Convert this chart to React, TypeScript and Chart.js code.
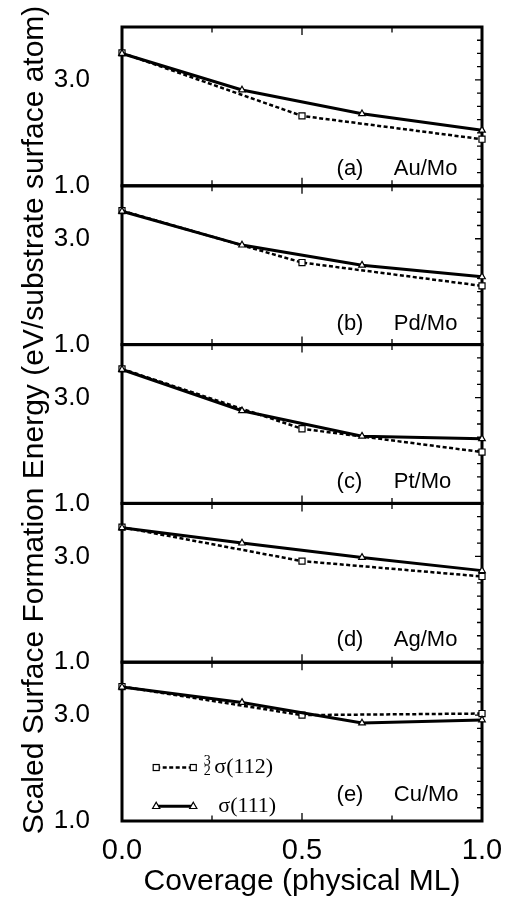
import React, { useEffect, useRef } from 'react';
import { Chart, registerables } from 'chart.js';

Chart.register(...registerables);

// ---------- data ----------
const coverage112 = [0, 0.5, 1];
const coverage111 = [0, 1 / 3, 2 / 3, 1];

const au112 = [3.51, 2.32, 1.88];
const au111 = [3.5, 2.81, 2.36, 2.05];
const pd112 = [3.53, 2.55, 2.11];
const pd111 = [3.52, 2.88, 2.5, 2.28];
const pt112 = [3.54, 2.41, 1.97];
const pt111 = [3.53, 2.75, 2.27, 2.22];
const ag112 = [3.55, 2.91, 2.62];
const ag111 = [3.54, 3.25, 2.98, 2.73];
const cu112 = [3.54, 3.0, 3.03];
const cu111 = [3.53, 3.24, 2.85, 2.91];

const sigma112 = [au112, pd112, pt112, ag112, cu112];
const sigma111 = [au111, pd111, pt111, ag111, cu111];

const panelLetters = ['(a)', '(b)', '(c)', '(d)', '(e)'];
const panelNames = ['Au/Mo', 'Pd/Mo', 'Pt/Mo', 'Ag/Mo', 'Cu/Mo'];
const panelIds = ['ya', 'yb', 'yc', 'yd', 'ye'];

const yTickValues = [1, 3];
const yMinorTicks = [1.25, 1.5, 1.75, 2, 2.25, 2.5, 2.75, 3, 3.25, 3.5, 3.75];
const xTickValues = [0, 0.5, 1];
const xMinorTicks = [0.25, 0.5, 0.75];
const yMin = 1;
const yMax = 4;

const legendLabels = ['σ(112)', 'σ(111)'];
const xTitle = 'Coverage (physical ML)';
const yTitle = 'Scaled Surface Formation Energy (eV/substrate surface atom)';

// ---------- styling / layout (not data) ----------
const SANS = "'Liberation Sans', Arial, Helvetica, sans-serif";
const SERIF = "'Liberation Serif', 'Times New Roman', serif";
const labelBaselineValue = [1.2, 1.28, 1.3, 1.3, 1.38];
const labelLetterX = 0.596;
const labelNameX = 0.755;
const legendRowValue = [2.01, 1.28];
const legendSampleX = [0.095, 0.198];

const framePlugin = {
  id: 'frame',
  beforeDatasetsDraw(chart: any) {
    const { ctx, chartArea } = chart;
    const xs = chart.scales.x;
    ctx.save();
    ctx.strokeStyle = '#000';
    panelIds.forEach((id) => {
      const s = chart.scales[id];
      const top = s.getPixelForValue(yMax);
      const bot = s.getPixelForValue(yMin);
      ctx.lineWidth = 1.3;
      ctx.beginPath();
      yMinorTicks.forEach((v) => {
        const py = s.getPixelForValue(v);
        const len = v === 3 ? 7 : 5;
        ctx.moveTo(chartArea.right, py);
        ctx.lineTo(chartArea.right - len, py);
      });
      xMinorTicks.forEach((v) => {
        const px = xs.getPixelForValue(v);
        const len = v === 0.5 ? 8 : 5.5;
        ctx.moveTo(px, top);
        ctx.lineTo(px, top + len);
        ctx.moveTo(px, bot);
        ctx.lineTo(px, bot - len);
      });
      ctx.stroke();
      ctx.lineWidth = 3;
      ctx.strokeRect(chartArea.left, top, chartArea.right - chartArea.left, bot - top);
    });
    ctx.restore();
  },
  afterDraw(chart: any) {
    const { ctx, chartArea } = chart;
    const xs = chart.scales.x;
    ctx.save();
    ctx.fillStyle = '#000';
    ctx.font = `22px ${SANS}`;
    ctx.textAlign = 'left';
    ctx.textBaseline = 'alphabetic';
    panelIds.forEach((id, i) => {
      const s = chart.scales[id];
      const py = s.getPixelForValue(labelBaselineValue[i]);
      ctx.fillText(panelLetters[i], xs.getPixelForValue(labelLetterX), py);
      ctx.fillText(panelNames[i], xs.getPixelForValue(labelNameX), py);
    });

    ctx.save();
    ctx.translate(35, (chartArea.top + chartArea.bottom) / 2 - 4);
    ctx.rotate(-Math.PI / 2);
    ctx.font = `30px ${SANS}`;
    ctx.textAlign = 'center';
    ctx.textBaseline = 'middle';
    ctx.fillText(yTitle, 0, 0);
    ctx.restore();

    const se = chart.scales.ye;
    const x0 = xs.getPixelForValue(legendSampleX[0]);
    const x1 = xs.getPixelForValue(legendSampleX[1]);
    const r1 = se.getPixelForValue(legendRowValue[0]);
    const r2 = se.getPixelForValue(legendRowValue[1]);
    ctx.strokeStyle = '#000';
    ctx.lineWidth = 2.5;
    ctx.setLineDash([4, 2.5]);
    ctx.beginPath();
    ctx.moveTo(x0, r1);
    ctx.lineTo(x1, r1);
    ctx.stroke();
    ctx.setLineDash([]);
    ctx.lineWidth = 1.2;
    [x0, x1].forEach((px) => {
      ctx.fillStyle = '#fff';
      ctx.fillRect(px - 3, r1 - 3, 6, 6);
      ctx.strokeRect(px - 3, r1 - 3, 6, 6);
    });
    ctx.lineWidth = 3;
    ctx.beginPath();
    ctx.moveTo(x0, r2);
    ctx.lineTo(x1, r2);
    ctx.stroke();
    ctx.lineWidth = 1.2;
    [x0, x1].forEach((px) => {
      ctx.fillStyle = '#fff';
      ctx.beginPath();
      ctx.moveTo(px, r2 - 4);
      ctx.lineTo(px + 3.6, r2 + 2.3);
      ctx.lineTo(px - 3.6, r2 + 2.3);
      ctx.closePath();
      ctx.fill();
      ctx.stroke();
    });
    ctx.fillStyle = '#000';
    ctx.font = `14px ${SERIF}`;
    ctx.textAlign = 'center';
    ctx.textBaseline = 'middle';
    ctx.fillText('3', x1 + 14, r1 - 6);
    ctx.fillText('2', x1 + 14, r1 + 4);
    ctx.font = `22px ${SERIF}`;
    ctx.textAlign = 'left';
    ctx.textBaseline = 'middle';
    ctx.fillText(legendLabels[0], x1 + 21, r1);
    ctx.fillText(legendLabels[1], x1 + 25, r2);
    ctx.restore();
  },
};

export default function App() {
  const ref = useRef<HTMLCanvasElement | null>(null);

  useEffect(() => {
    if (!ref.current) return;
    const datasets: any[] = [];
    panelIds.forEach((id, i) => {
      datasets.push({
        label: legendLabels[0],
        data: coverage112.map((x, j) => ({ x, y: sigma112[i][j] })),
        yAxisID: id,
        xAxisID: 'x',
        borderColor: '#000',
        borderWidth: 2.5,
        borderDash: [4, 2.5],
        pointStyle: 'rect',
        pointRadius: 4.3,
        pointBorderWidth: 1.2,
        pointBackgroundColor: '#fff',
        pointBorderColor: '#000',
        tension: 0,
        clip: false,
        order: 2,
      });
      datasets.push({
        label: legendLabels[1],
        data: coverage111.map((x, j) => ({ x, y: sigma111[i][j] })),
        yAxisID: id,
        xAxisID: 'x',
        borderColor: '#000',
        borderWidth: 3,
        pointStyle: 'triangle',
        pointRadius: 3.8,
        pointBorderWidth: 1.2,
        pointBackgroundColor: '#fff',
        pointBorderColor: '#000',
        tension: 0,
        clip: false,
        order: 1,
      });
    });

    const scales: any = {
      x: {
        type: 'linear',
        position: 'bottom',
        min: 0,
        max: 1,
        grid: { display: false },
        border: { display: false },
        afterBuildTicks: (s: any) => {
          s.ticks = xTickValues.map((v) => ({ value: v }));
        },
        afterFit: (s: any) => {
          s.height = 79;
          s.paddingLeft = 0;
          s.paddingRight = 0;
        },
        ticks: {
          color: '#000',
          font: { size: 29, family: SANS },
          padding: 5,
          maxRotation: 0,
          autoSkip: false,
          callback: (v: any) => Number(v).toFixed(1),
        },
        title: {
          display: true,
          text: xTitle,
          color: '#000',
          font: { size: 30, family: SANS },
          padding: { top: 0, bottom: 0 },
        },
      },
    };
    // in a Chart.js stack the first-defined axis sits at the bottom
    [...panelIds].reverse().forEach((id) => {
      scales[id] = {
        type: 'linear',
        position: 'left',
        stack: 'panels',
        stackWeight: 1,
        offset: false,
        min: yMin,
        max: yMax,
        grid: { display: false },
        border: { display: false },
        afterBuildTicks: (s: any) => {
          s.ticks = yTickValues.map((v) => ({ value: v }));
        },
        afterFit: (s: any) => {
          s.width = 122;
          s.paddingTop = 0;
          s.paddingBottom = 0;
        },
        ticks: {
          color: '#000',
          font: { size: 26, family: SANS },
          padding: 24,
          autoSkip: false,
          callback: (v: any) => Number(v).toFixed(1),
        },
      };
    });

    const chart = new Chart(ref.current, {
      type: 'line',
      data: { datasets },
      options: {
        responsive: false,
        animation: false,
        devicePixelRatio: 1,
        layout: { padding: { top: 27, right: 26, left: 0, bottom: 0 } },
        plugins: { legend: { display: false }, tooltip: { enabled: false } },
        scales,
      } as any,
      plugins: [framePlugin],
    });
    return () => chart.destroy();
  }, []);

  return (
    <canvas
      ref={ref}
      width={508}
      height={900}
      style={{ position: 'absolute', left: 0, top: 0, width: 508, height: 900, background: '#fff' }}
    />
  );
}
